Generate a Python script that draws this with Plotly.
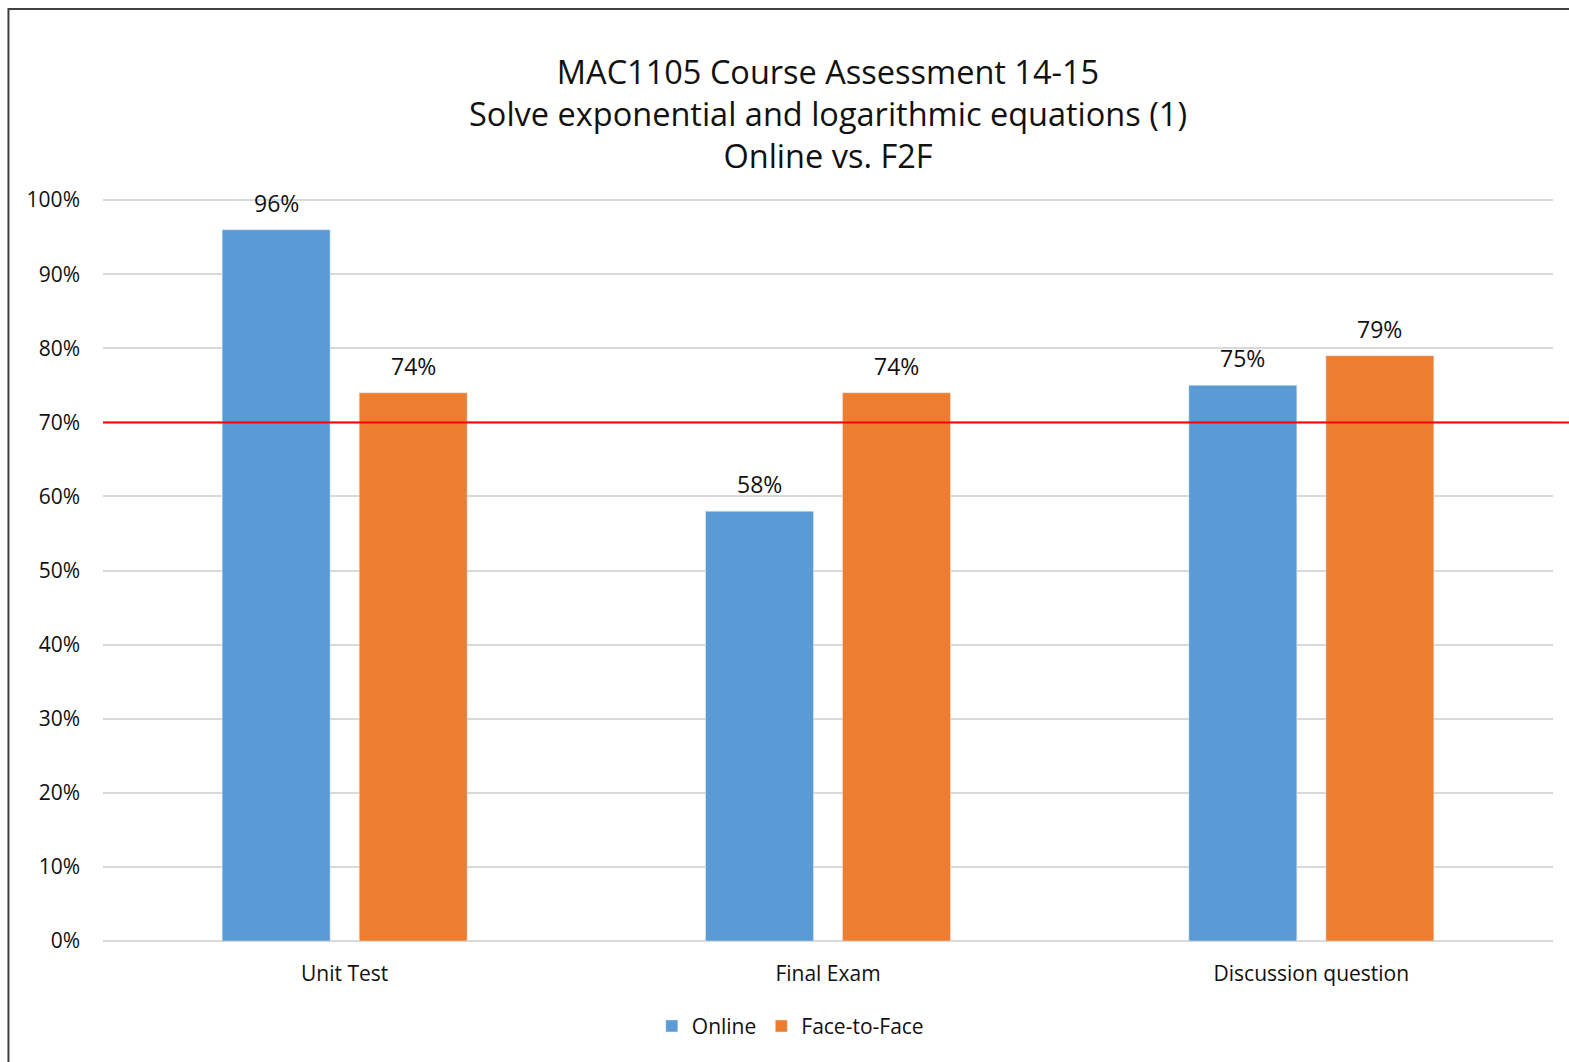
import plotly.graph_objects as go

categories = ['Unit Test', 'Final Exam', 'Discussion question']
online = [0.96, 0.58, 0.75]
face_to_face = [0.74, 0.74, 0.79]
target = 0.70

title_lines = ['MAC1105 Course Assessment 14-15',
               'Solve exponential and logarithmic equations (1)',
               'Online vs. F2F']

font_family = 'Open Sans, Noto Sans, sans-serif'
text_color = '#111111'
colors = {'Online': '#5b9bd5', 'Face-to-Face': '#ed7d31'}

fig = go.Figure()
fig.add_trace(go.Bar(x=categories, y=online, name='Online', marker=dict(color=colors['Online'])))
fig.add_trace(go.Bar(x=categories, y=face_to_face, name='Face-to-Face', marker=dict(color=colors['Face-to-Face'])))

# value labels, a bit higher above the bars than plotly's own outside text
for values, shift in ((online, -68.5), (face_to_face, 68.5)):
    for cat, v in zip(categories, values):
        fig.add_annotation(x=cat, y=v, text=f'{v:.0%}', showarrow=False, xshift=shift,
                           yanchor='bottom', yshift=9, font=dict(size=23, color=text_color))

# 70% target line, runs past the plot area to the right edge
fig.add_shape(type='line', xref='paper', yref='y', x0=0, x1=1.012, y0=target, y1=target,
              line=dict(color='#ff0000', width=2))

# chart frame (only top/left visible in the reference)
fig.add_shape(type='rect', xref='paper', yref='paper', x0=-0.0652, x1=1.2, y0=-0.3, y1=1.256,
              line=dict(color='#404040', width=2), layer='above')

fig.update_layout(
    width=1569, height=1062,
    margin=dict(l=103, r=16, t=199, b=121),
    paper_bgcolor='white', plot_bgcolor='white',
    font=dict(family=font_family, color=text_color),
    title=dict(text='<br>'.join(title_lines), x=0.5, xref='paper', y=0.921, yanchor='middle',
               font=dict(size=32.5, color=text_color)),
    barmode='group', bargap=0.433, bargroupgap=0.212,
    showlegend=True,
    legend=dict(orientation='h', x=0.474, xanchor='center', y=-0.115, yanchor='middle',
                font=dict(size=21, color=text_color)),
    xaxis=dict(showgrid=False, ticks='', tickfont=dict(size=21), showline=False, ticklabelstandoff=18),
    yaxis=dict(range=[0, 1.0015], tickvals=[i / 10 for i in range(11)], tickformat='.0%',
               showgrid=True, gridcolor='#d9d9d9',
               gridwidth=2, zeroline=True, zerolinecolor='#d9d9d9', zerolinewidth=2,
               tickfont=dict(size=21), ticks='', ticklabelstandoff=22),
)

fig.write_html('out.html', config={'displayModeBar': False},
               post_script="document.body.style.margin='0';")
